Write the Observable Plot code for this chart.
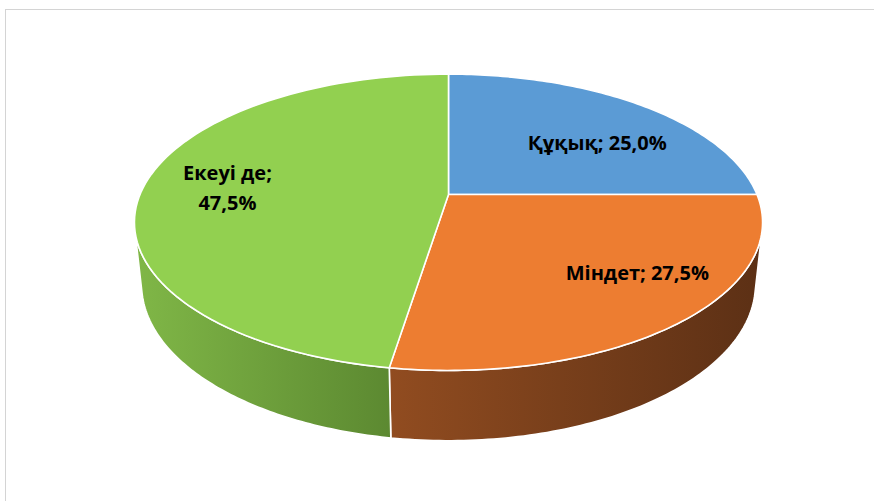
<!DOCTYPE html>
<html>
<head>
<meta charset="utf-8">
<script src="https://cdn.jsdelivr.net/npm/d3@7"></script>
<script src="https://cdn.jsdelivr.net/npm/@observablehq/plot@0.6"></script>
<style>
  html, body { margin: 0; padding: 0; background: #ffffff; overflow: hidden; }
  #wrap { position: relative; width: 874px; height: 501px; }
  #frame { position: absolute; left: 5px; top: 9px; right: -20px; bottom: -20px;
           border-left: 1.3px solid #d4d4d4; border-top: 1.3px solid #d4d4d4; pointer-events: none; }
  #chart { position: absolute; left: 0; top: 0; }
</style>
</head>
<body>
<div id="wrap"><div id="chart"></div><div id="frame"></div></div>
<script>
// ---- data ----
const categories = ["Құқық", "Міндет", "Екеуі де"];
const shares = [25.0, 27.5, 47.5];
const wrapAfterName = ["Екеуі де"];

// ---- styles ----
const topColors = ["#5B9BD5", "#ED7D31", "#92D050"];
const sideGradients = [["#3f72a8", "#2b5079"], ["#914c20", "#5c3015"], ["#80b747", "#5c8931"]];
const labelNudge = {"Құқық": [9, 11], "Міндет": [33, -9], "Екеуі де": [-8, -1]};

// ---- 3D perspective pie geometry (unit disc, tilted camera) ----
const elev = 27.6 * Math.PI / 180, camDist = 4.72, focal = 1456, thick = 0.229;
const ce = Math.cos(elev), se = Math.sin(elev);
function proj(x, y, z) {
  const v = z * ce - y * se;
  const w = camDist - (y * ce + z * se);
  return [focal * x / w, focal * v / w];
}
const onCircle = (t, r, z) => proj(r * Math.sin(t), -r * Math.cos(t), z);

const arcs = d3.pie().sort(null).startAngle(0).endAngle(2 * Math.PI)(shares);
const silR = Math.acos(-1 / (camDist * ce));      // right silhouette angle
const silL = 2 * Math.PI - silR;                   // left silhouette angle
const N = 90;

const tops = [], sides = [], labels = [];
arcs.forEach((a, i) => {
  const id = categories[i];
  // top face
  const pts = [proj(0, 0, 0)];
  for (let k = 0; k <= N; k++) pts.push(onCircle(a.startAngle + (a.endAngle - a.startAngle) * k / N, 1, 0));
  pts.push(proj(0, 0, 0));
  pts.forEach(([u, v]) => tops.push({id, i, u, v}));
  // visible side wall
  const s0 = Math.max(a.startAngle, silR), s1 = Math.min(a.endAngle, silL);
  if (s1 > s0) {
    const up = [], dn = [];
    for (let k = 0; k <= N; k++) {
      const t = s0 + (s1 - s0) * k / N;
      up.push(onCircle(t, 1, 0));
      dn.push(onCircle(t, 1, -thick));
    }
    const poly = up.concat(dn.reverse(), [up[0]]);
    poly.forEach(([u, v]) => sides.push({id, i, u, v}));
  }
  // label
  const mid = (a.startAngle + a.endAngle) / 2;
  const [lu, lv] = onCircle(mid, 0.7, 0);
  const pct = a.data.toFixed(1).replace(".", ",") + "%";
  const text = id + ";" + (wrapAfterName.includes(id) ? "\n" : " ") + pct;
  labels.push({id, u: lu, v: lv, text, dx: labelNudge[id][0], dy: labelNudge[id][1]});
});

const sideMarks = categories.map((c, i) => Plot.line(sides.filter(d => d.i === i), {
  x: "u", y: "v", fill: `url(#side${i})`, stroke: "#ffffff", strokeWidth: 1.6, strokeLinejoin: "round"
}));
const topMarks = categories.map((c, i) => Plot.line(tops.filter(d => d.i === i), {
  x: "u", y: "v", fill: topColors[i], stroke: "#ffffff", strokeWidth: 1.6, strokeLinejoin: "round"
}));
const labelMarks = labels.map(l => Plot.text([l], {
  x: "u", y: "v", text: "text", dx: l.dx, dy: l.dy,
  fontSize: 20, fontWeight: "bold", fill: "#000000", lineHeight: 1.5,
  fontFamily: "'Open Sans', Lato, sans-serif"
}));

const chart = Plot.plot({
  width: 874, height: 501,
  margin: 0,
  x: {domain: [-448, 426], range: [0, 874], axis: null},
  y: {domain: [194, -307], range: [0, 501], axis: null},
  style: {background: "transparent", fontFamily: "'Open Sans', sans-serif"},
  marks: [...sideMarks, ...topMarks, ...labelMarks]
});

// gradients for the side walls
const svgNS = "http://www.w3.org/2000/svg";
const defs = document.createElementNS(svgNS, "defs");
sideGradients.forEach(([c0, c1], i) => {
  const g = document.createElementNS(svgNS, "linearGradient");
  g.setAttribute("id", "side" + i);
  g.setAttribute("x1", "0"); g.setAttribute("x2", "1"); g.setAttribute("y1", "0"); g.setAttribute("y2", "0");
  [[0, c0], [1, c1]].forEach(([o, c]) => {
    const s = document.createElementNS(svgNS, "stop");
    s.setAttribute("offset", o); s.setAttribute("stop-color", c);
    g.appendChild(s);
  });
  defs.appendChild(g);
});
chart.insertBefore(defs, chart.firstChild);
document.getElementById("chart").appendChild(chart);
</script>
</body>
</html>
